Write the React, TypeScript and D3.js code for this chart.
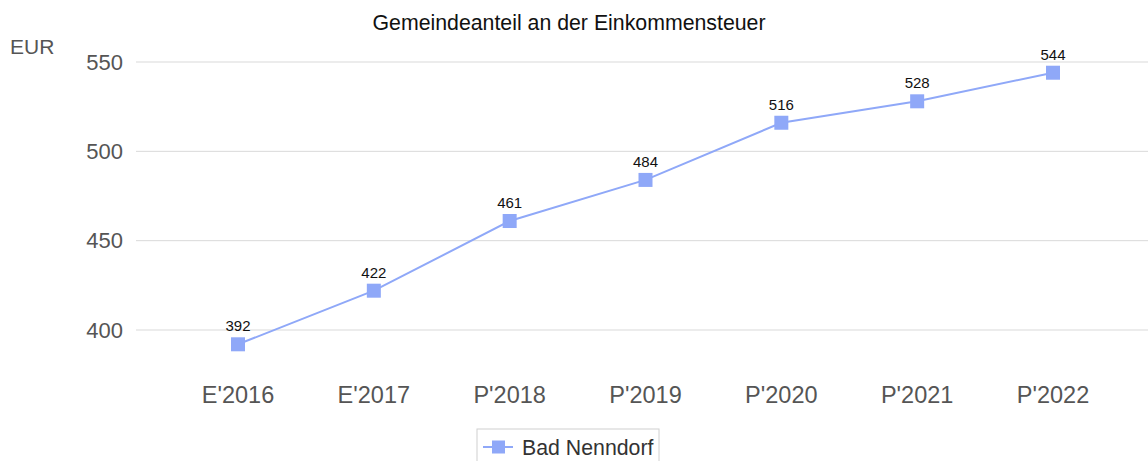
import { useEffect, useRef } from "react";
import * as d3 from "d3";

const categories = ["E'2016", "E'2017", "P'2018", "P'2019", "P'2020", "P'2021", "P'2022"];
const values = [392, 422, 461, 484, 516, 528, 544];
const yTicks = [400, 450, 500, 550];
const seriesName = "Bad Nenndorf";
const title = "Gemeindeanteil an der Einkommensteuer";

export default function App() {
  const ref = useRef<SVGSVGElement>(null);

  useEffect(() => {
    if (!ref.current) return;
    const svg = d3.select(ref.current);
    svg.selectAll("*").remove();

    const width = 1148;
    const height = 461;
    const color = "#8fa8f8";
    const font = "'Liberation Sans', Arial, sans-serif";

    const x = d3.scalePoint<string>().domain(categories).range([238, 1053]);
    const y = d3.scaleLinear().domain([400, 550]).range([330, 62]);

    svg.append("rect").attr("width", width).attr("height", height).attr("fill", "#fff");

    // grid
    svg.append("g")
      .selectAll("line")
      .data(yTicks)
      .join("line")
      .attr("x1", 136)
      .attr("x2", width)
      .attr("y1", (d) => y(d))
      .attr("y2", (d) => y(d))
      .attr("stroke", "#d9d9d9")
      .attr("stroke-width", 1);

    // y tick labels
    svg.append("g")
      .selectAll("text")
      .data(yTicks)
      .join("text")
      .attr("x", 123)
      .attr("y", (d) => y(d))
      .attr("dy", "0.35em")
      .attr("text-anchor", "end")
      .attr("fill", "#555")
      .style("font", `22px ${font}`)
      .text((d) => d);

    svg.append("text")
      .attr("x", 10)
      .attr("y", 54)
      .attr("fill", "#555")
      .style("font", `21px ${font}`)
      .text("EUR");

    // x tick labels
    svg.append("g")
      .selectAll("text")
      .data(categories)
      .join("text")
      .attr("x", (d) => x(d)!)
      .attr("y", 403)
      .attr("text-anchor", "middle")
      .attr("fill", "#555")
      .style("font", `23.5px ${font}`)
      .text((d) => d);

    // title
    svg.append("text")
      .attr("x", 569)
      .attr("y", 30)
      .attr("text-anchor", "middle")
      .attr("fill", "#111")
      .style("font", `21.3px ${font}`)
      .text(title);

    const line = d3.line<number>()
      .x((_, i) => x(categories[i])!)
      .y((d) => y(d));

    svg.append("path")
      .datum(values)
      .attr("d", line)
      .attr("fill", "none")
      .attr("stroke", color)
      .attr("stroke-width", 2);

    const m = 14;
    svg.append("g")
      .selectAll("rect")
      .data(values)
      .join("rect")
      .attr("x", (_, i) => x(categories[i])! - m / 2)
      .attr("y", (d) => y(d) - m / 2)
      .attr("width", m)
      .attr("height", m)
      .attr("fill", color);

    svg.append("g")
      .selectAll("text")
      .data(values)
      .join("text")
      .attr("x", (_, i) => x(categories[i])!)
      .attr("y", (d) => y(d) - 13)
      .attr("text-anchor", "middle")
      .attr("fill", "#111")
      .style("font", `15px ${font}`)
      .text((d) => d);

    // legend
    const lg = svg.append("g").attr("transform", "translate(477,429)");
    lg.append("rect")
      .attr("width", 182)
      .attr("height", 40)
      .attr("fill", "#fff")
      .attr("stroke", "#d0d0d0");
    lg.append("line")
      .attr("x1", 6)
      .attr("x2", 36)
      .attr("y1", 18)
      .attr("y2", 18)
      .attr("stroke", color)
      .attr("stroke-width", 2);
    lg.append("rect")
      .attr("x", 15)
      .attr("y", 11.5)
      .attr("width", 13)
      .attr("height", 13)
      .attr("fill", color);
    lg.append("text")
      .attr("x", 45)
      .attr("y", 26)
      .attr("fill", "#333")
      .style("font", `21.3px ${font}`)
      .text(seriesName);
  }, []);

  return (
    <svg
      ref={ref}
      width={1148}
      height={461}
      style={{ position: "absolute", left: 0, top: 0, display: "block" }}
    />
  );
}
